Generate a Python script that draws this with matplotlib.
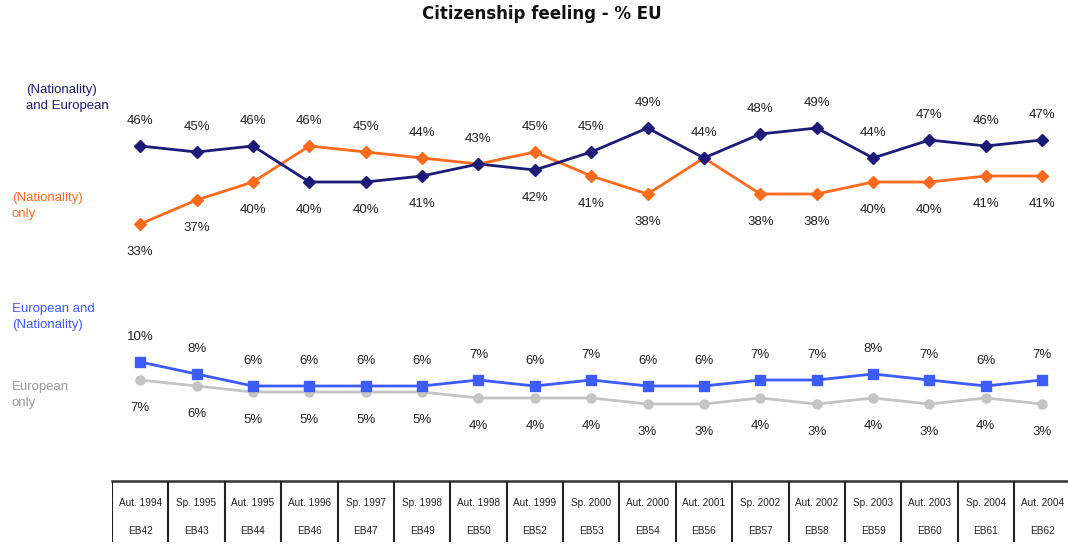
import numpy as np
import matplotlib
matplotlib.use("Agg")
import matplotlib.pyplot as plt

# ---------------------------- DATA ---------------------------- #

waves = ["Aut. 1994", "Sp. 1995", "Aut. 1995", "Aut. 1996", "Sp. 1997", "Sp. 1998",
         "Aut. 1998", "Aut. 1999", "Sp. 2000", "Aut. 2000", "Aut. 2001", "Sp. 2002",
         "Aut. 2002", "Sp. 2003", "Aut. 2003", "Sp. 2004", "Aut. 2004"]
eb_codes = ["EB42", "EB43", "EB44", "EB46", "EB47", "EB49", "EB50", "EB52", "EB53",
            "EB54", "EB56", "EB57", "EB58", "EB59", "EB60", "EB61", "EB62"]

nat_and_eu = [46, 45, 46, 40, 40, 41, 43, 42, 45, 49, 44, 48, 49, 44, 47, 46, 47]
nat_only = [33, 37, 40, 46, 45, 44, 43, 45, 41, 38, 44, 38, 38, 40, 40, 41, 41]
eu_and_nat = [10, 8, 6, 6, 6, 6, 7, 6, 7, 6, 6, 7, 7, 8, 7, 6, 7]
eu_only = [7, 6, 5, 5, 5, 5, 4, 4, 4, 3, 3, 4, 3, 4, 3, 4, 3]

# ---------------------------- STYLE ---------------------------- #

plt.rcParams['font.family'] = ['Liberation Sans', 'DejaVu Sans']

W, H = 1068, 546
navy = '#1c1c78'
orange = '#ff6a1c'
blue = '#3d5cff'
grey = '#c4c4c4'
txt = '#222222'
fs = 9.5

fig = plt.figure(figsize=(W / 100, H / 100), dpi=100)

# column geometry (pixels)
left_px = 112
col_w = 56.375
x_right = (W - left_px) / col_w - 0.5

# main chart axes: top 60px -> bottom 470px
ax = fig.add_axes([left_px / W, 1 - 470 / H, 1 - left_px / W, (470 - 60) / H])
ax.set_xlim(-0.5, x_right)
ax.set_ylim(-8, (422 - 60) / 6)
ax.axis('off')

x = np.arange(len(waves))

ax.plot(x, eu_only, color=grey, lw=2, marker='o', ms=6.5, zorder=2)
ax.plot(x, eu_and_nat, color=blue, lw=2, marker='s', ms=6.5, zorder=3)
ax.plot(x, nat_only, color=orange, lw=2, marker='D', ms=6, zorder=2)
ax.plot(x, nat_and_eu, color=navy, lw=2, marker='D', ms=6, zorder=3)

# value labels: 1 unit = 6px
up = 4.2
down = 4.6
for i in range(len(x)):
    a, b = nat_and_eu[i], nat_only[i]
    hi, lo = max(a, b), min(a, b)
    ax.text(i, hi + up, f"{hi}%", ha='center', va='center', fontsize=fs, color=txt)
    if a != b:
        ax.text(i, lo - down, f"{lo}%", ha='center', va='center', fontsize=fs, color=txt)
    ax.text(i, eu_and_nat[i] + up, f"{eu_and_nat[i]}%", ha='center', va='center',
            fontsize=fs, color=txt)
    ax.text(i, eu_only[i] - down, f"{eu_only[i]}%", ha='center', va='center',
            fontsize=fs, color=txt)

# series names on the left
fig.text(26 / W, 1 - 98 / H, "(Nationality)\nand European", color=navy, fontsize=fs,
         ha='left', va='center', linespacing=1.55)
fig.text(12 / W, 1 - 206 / H, "(Nationality)\nonly", color=orange, fontsize=fs,
         ha='left', va='center', linespacing=1.55)
fig.text(12 / W, 1 - 317 / H, "European and\n(Nationality)", color=blue, fontsize=fs,
         ha='left', va='center', linespacing=1.55)
fig.text(12 / W, 1 - 395 / H, "European\nonly", color='#999999', fontsize=fs,
         ha='left', va='center', linespacing=1.55)

fig.text(542 / W, 1 - 14 / H, "Citizenship feeling - % EU", fontsize=12, weight='bold',
         ha='center', va='center', color='#111111', family=['DejaVu Sans'])

# ---------------------------- TABLE ---------------------------- #

tab = fig.add_axes([left_px / W, 0, 1 - left_px / W, (H - 481) / H])
tab.set_xlim(-0.5, x_right)
tab.set_ylim(1, 0)
tab.axis('off')

tab.axhline(0, color='#333333', lw=1.8, clip_on=False)
for i in range(len(waves)):
    tab.plot([i - 0.5, i - 0.5], [0, 0.94], color='#222222', lw=1.5,
             solid_capstyle='butt')
    tab.text(i, 0.34, waves[i], ha='center', va='center', fontsize=7.2, color=txt)
    tab.text(i, 0.77, eb_codes[i], ha='center', va='center', fontsize=7.2, color=txt)

fig.savefig("out.png", dpi=100)
